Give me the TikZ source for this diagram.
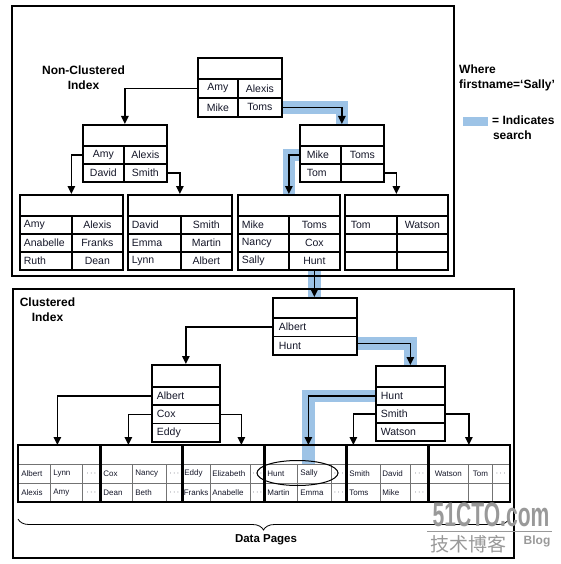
\documentclass[tikz,border=0pt]{standalone}
\usepackage{fontspec}
\setmainfont{Liberation Sans}
\newfontfamily\cjk{Noto Sans CJK SC}
\usetikzlibrary{arrows.meta,shapes.geometric,decorations.pathreplacing}
\pgfdeclarelayer{bg}
\pgfsetlayers{bg,main}
\definecolor{hl}{RGB}{157,195,230}
\definecolor{txt}{RGB}{20,22,40}
\newcommand\lft[3]{\makebox[#2][l]{\hspace{#1}#3}}
\tikzset{
  box/.style={draw, line width=1.7pt, inner sep=0pt, anchor=north west, text=txt,
    font=\fontsize{10.5}{12}\selectfont},
  hdr/.style={box},
  conn/.style={line width=1.4pt, -{Triangle[length=8pt,width=7.5pt]}},
  band/.style={line width=12.5pt, draw=hl, line join=miter},
  dc/.style={draw=black!55, line width=0.7pt, inner sep=0pt, anchor=north west, text=txt,
    font=\fontsize{8}{9}\selectfont},
  pg/.style={line width=1.8pt},
  sepline/.style={line width=3pt},
  frame/.style={line width=1.8pt},
  lbl/.style={font=\bfseries\fontsize{12}{15}\selectfont, inner sep=0pt},
  wm/.style={text=black!40, inner sep=0pt},
}
\begin{document}
\begin{tikzpicture}[x=1pt,y=-1pt]
\useasboundingbox (0,0) rectangle (561,564);
% frames
\draw[frame] (12,6) rectangle (454,276);
\draw[frame] (13,289) rectangle (514,558);

% labels
\node[lbl, align=center] (ncl) at (83.5,77.5) {Non-Clustered\\Index};
\node[lbl, align=left, anchor=west] (where) at (459,77.5) {Where\\firstname=‘Sally’};
\fill[hl] (463,117) rectangle (488,126);
\node[lbl, align=left, anchor=west] (legend) at (492,128) {= Indicates\\\hspace{0.8pt}search};
\node[lbl, align=center] (cl) at (47.5,310) {Clustered\\Index};

% ---- non-clustered root
\node[hdr, minimum width=84pt, minimum height=21pt] (Rh) at (197,57) {};
\node[box, minimum width=40pt, minimum height=19pt] (Ra) at (197,78) {Amy};
\node[box, minimum width=44pt, minimum height=19pt] (Rb) at (237,78) {Alexis};
\node[box, minimum width=40pt, minimum height=19pt] (Rc) at (197,97) {Mike};
\node[box, minimum width=44pt, minimum height=19pt] (Rd) at (237,97) {Toms};

% ---- level 2 left
\node[hdr, minimum width=84pt, minimum height=21pt] (Ah) at (82,124) {};
\node[box, minimum width=41pt, minimum height=18pt] (Aa) at (82,145) {Amy};
\node[box, minimum width=43pt, minimum height=18pt] (Ab) at (123,145) {Alexis};
\node[box, minimum width=41pt, minimum height=18pt] (Ac) at (82,163) {David};
\node[box, minimum width=43pt, minimum height=18pt] (Ad) at (123,163) {Smith};

% ---- level 2 right
\node[hdr, minimum width=84pt, minimum height=21pt] (Bh) at (299,124) {};
\node[box, minimum width=41pt, minimum height=18pt] (Ba) at (299,145) {\lft{7pt}{41pt}{Mike}};
\node[box, minimum width=43pt, minimum height=18pt] (Bb) at (340,145) {Toms};
\node[box, minimum width=41pt, minimum height=18pt] (Bc) at (299,163) {\lft{7pt}{41pt}{Tom}};
\node[box, minimum width=43pt, minimum height=18pt] (Bd) at (340,163) {};

% ---- leaves
% leaf 1
\node[hdr, minimum width=103pt, minimum height=21pt] (F1h) at (19,194) {};
\node[box, minimum width=52pt, minimum height=18pt] (F1a) at (19,215) {\lft{4pt}{52pt}{Amy}};
\node[box, minimum width=51pt, minimum height=18pt] (F1b) at (71,215) {Alexis};
\node[box, minimum width=52pt, minimum height=18pt] (F1c) at (19,233) {\lft{4pt}{52pt}{Anabelle}};
\node[box, minimum width=51pt, minimum height=18pt] (F1d) at (71,233) {Franks};
\node[box, minimum width=52pt, minimum height=18pt] (F1e) at (19,251) {\lft{4pt}{52pt}{Ruth}};
\node[box, minimum width=51pt, minimum height=18pt] (F1f) at (71,251) {Dean};
% leaf 2
\node[hdr, minimum width=104pt, minimum height=21pt] (F2h) at (127,194) {};
\node[box, minimum width=53pt, minimum height=18pt] (F2a) at (127,215) {\lft{4pt}{53pt}{David}};
\node[box, minimum width=51pt, minimum height=18pt] (F2b) at (180,215) {Smith};
\node[box, minimum width=53pt, minimum height=18pt] (F2c) at (127,233) {\lft{4pt}{53pt}{Emma}};
\node[box, minimum width=51pt, minimum height=18pt] (F2d) at (180,233) {Martin};
\node[box, minimum width=53pt, minimum height=18pt] (F2e) at (127,251) {\lft{4pt}{53pt}{Lynn}};
\node[box, minimum width=51pt, minimum height=18pt] (F2f) at (180,251) {Albert};
% leaf 3
\node[hdr, minimum width=102pt, minimum height=21pt] (F3h) at (237,194) {};
\node[box, minimum width=51pt, minimum height=18pt] (F3a) at (237,215) {\lft{4pt}{51pt}{Mike}};
\node[box, minimum width=51pt, minimum height=18pt] (F3b) at (288,215) {Toms};
\node[box, minimum width=51pt, minimum height=18pt] (F3c) at (237,233) {\lft{4pt}{51pt}{Nancy}};
\node[box, minimum width=51pt, minimum height=18pt] (F3d) at (288,233) {Cox};
\node[box, minimum width=51pt, minimum height=18pt] (F3e) at (237,251) {\lft{4pt}{51pt}{Sally}};
\node[box, minimum width=51pt, minimum height=18pt] (F3f) at (288,251) {Hunt};
% leaf 4
\node[hdr, minimum width=103pt, minimum height=21pt] (F4h) at (344,194) {};
\node[box, minimum width=52pt, minimum height=18pt] (F4a) at (344,215) {\lft{6pt}{52pt}{Tom}};
\node[box, minimum width=51pt, minimum height=18pt] (F4b) at (396,215) {Watson};
\node[box, minimum width=52pt, minimum height=18pt] (F4c) at (344,233) {};
\node[box, minimum width=51pt, minimum height=18pt] (F4d) at (396,233) {};
\node[box, minimum width=52pt, minimum height=18pt] (F4e) at (344,251) {};
\node[box, minimum width=51pt, minimum height=18pt] (F4f) at (396,251) {};

% ---- clustered root
\node[hdr, minimum width=84pt, minimum height=20pt] (Ch) at (272,297) {};
\node[box, minimum width=84pt, minimum height=18.5pt] (C1) at (272,317) {\lft{6pt}{84pt}{Albert}};
\node[box, minimum width=84pt, minimum height=18.5pt] (C2) at (272,335.5) {\lft{6pt}{84pt}{Hunt}};
% clustered mid left
\node[hdr, minimum width=68pt, minimum height=22pt] (Lh) at (151,364) {};
\node[box, minimum width=68pt, minimum height=18.3pt] (L1) at (151,386) {\lft{5pt}{68pt}{Albert}};
\node[box, minimum width=68pt, minimum height=18.3pt] (L2) at (151,404.3) {\lft{5pt}{68pt}{Cox}};
\node[box, minimum width=68pt, minimum height=18.4pt] (L3) at (151,422.6) {\lft{5pt}{68pt}{Eddy}};
% clustered mid right
\node[hdr, minimum width=69pt, minimum height=21pt] (Mh) at (375,365) {};
\node[box, minimum width=69pt, minimum height=18pt] (M1) at (375,386) {\lft{5pt}{69pt}{Hunt}};
\node[box, minimum width=69pt, minimum height=18pt] (M2) at (375,404) {\lft{5pt}{69pt}{Smith}};
\node[box, minimum width=69pt, minimum height=18pt] (M3) at (375,422) {\lft{5pt}{69pt}{Watson}};

% ---- data pages
% P1
\node[dc, minimum width=82pt, minimum height=19pt] (P1h) at (18,445) {};
\node[dc, minimum width=32pt, minimum height=19pt] (P1a) at (18,464) {\lft{3pt}{32pt}{Albert}};
\node[dc, minimum width=32pt, minimum height=19pt] (P1b) at (50,464) {\lft{3pt}{32pt}{Lynn}};
\node[dc, minimum width=18pt, minimum height=19pt] (P1c) at (82,464) {$\cdots$};
\node[dc, minimum width=32pt, minimum height=18pt] (P1d) at (18,483) {\lft{3pt}{32pt}{Alexis}};
\node[dc, minimum width=32pt, minimum height=18pt] (P1e) at (50,483) {\lft{3pt}{32pt}{Amy}};
\node[dc, minimum width=18pt, minimum height=18pt] (P1f) at (82,483) {$\cdots$};
% P2
\node[dc, minimum width=82pt, minimum height=19pt] (P2h) at (100,445) {};
\node[dc, minimum width=32pt, minimum height=19pt] (P2a) at (100,464) {\lft{3pt}{32pt}{Cox}};
\node[dc, minimum width=34pt, minimum height=19pt] (P2b) at (132,464) {\lft{3pt}{34pt}{Nancy}};
\node[dc, minimum width=16pt, minimum height=19pt] (P2c) at (166,464) {$\cdots$};
\node[dc, minimum width=32pt, minimum height=18pt] (P2d) at (100,483) {\lft{3pt}{32pt}{Dean}};
\node[dc, minimum width=34pt, minimum height=18pt] (P2e) at (132,483) {\lft{3pt}{34pt}{Beth}};
\node[dc, minimum width=16pt, minimum height=18pt] (P2f) at (166,483) {$\cdots$};
% P3
\node[dc, minimum width=82pt, minimum height=19pt] (P3h) at (182,445) {};
\node[dc, minimum width=28pt, minimum height=19pt] (P3a) at (182,464) {\lft{2pt}{28pt}{Eddy}};
\node[dc, minimum width=40pt, minimum height=19pt] (P3b) at (210,464) {\lft{2pt}{40pt}{Elizabeth}};
\node[dc, minimum width=14pt, minimum height=19pt] (P3c) at (250,464) {$\cdots$};
\node[dc, minimum width=28pt, minimum height=18pt] (P3d) at (182,483) {\lft{1.5pt}{28pt}{Franks}};
\node[dc, minimum width=40pt, minimum height=18pt] (P3e) at (210,483) {\lft{2pt}{40pt}{Anabelle}};
\node[dc, minimum width=14pt, minimum height=18pt] (P3f) at (250,483) {$\cdots$};
% P4
\node[dc, minimum width=82pt, minimum height=19pt] (P4h) at (264,445) {};
\node[dc, minimum width=33pt, minimum height=19pt] (P4a) at (264,464) {\lft{3pt}{33pt}{Hunt}};
\node[dc, minimum width=34pt, minimum height=19pt] (P4b) at (297,464) {\lft{3pt}{34pt}{Sally}};
\node[dc, minimum width=15pt, minimum height=19pt] (P4c) at (331,464) {$\cdots$};
\node[dc, minimum width=33pt, minimum height=18pt] (P4d) at (264,483) {\lft{3pt}{33pt}{Martin}};
\node[dc, minimum width=34pt, minimum height=18pt] (P4e) at (297,483) {\lft{3pt}{34pt}{Emma}};
\node[dc, minimum width=15pt, minimum height=18pt] (P4f) at (331,483) {$\cdots$};
% P5
\node[dc, minimum width=82pt, minimum height=19pt] (P5h) at (346,445) {};
\node[dc, minimum width=34pt, minimum height=19pt] (P5a) at (346,464) {\lft{3pt}{34pt}{Smith}};
\node[dc, minimum width=30pt, minimum height=19pt] (P5b) at (380,464) {\lft{2pt}{30pt}{David}};
\node[dc, minimum width=18pt, minimum height=19pt] (P5c) at (410,464) {$\cdots$};
\node[dc, minimum width=34pt, minimum height=18pt] (P5d) at (346,483) {\lft{3pt}{34pt}{Toms}};
\node[dc, minimum width=30pt, minimum height=18pt] (P5e) at (380,483) {\lft{2pt}{30pt}{Mike}};
\node[dc, minimum width=18pt, minimum height=18pt] (P5f) at (410,483) {$\cdots$};
% P6
\node[dc, minimum width=81pt, minimum height=19pt] (P6h) at (428,445) {};
\node[dc, minimum width=40pt, minimum height=19pt] (P6a) at (428,464) {Watson};
\node[dc, minimum width=24pt, minimum height=19pt] (P6b) at (468,464) {Tom};
\node[dc, minimum width=17pt, minimum height=19pt] (P6c) at (492,464) {$\cdots$};
\node[dc, minimum width=40pt, minimum height=18pt] (P6d) at (428,483) {};
\node[dc, minimum width=24pt, minimum height=18pt] (P6e) at (468,483) {};
\node[dc, minimum width=17pt, minimum height=18pt] (P6f) at (492,483) {};

% page outlines and separators
\draw[pg] (P1h.north west) rectangle (P6f.south east);
\draw[sepline] (P2h.north west) -- (P2d.south west);
\draw[sepline] (P3h.north west) -- (P3d.south west);
\draw[sepline] (P4h.north west) -- (P4d.south west);
\draw[sepline] (P5h.north west) -- (P5d.south west);
\draw[sepline] (P6h.north west) -- (P6d.south west);

% circle round Hunt / Sally
\node[ellipse, draw, line width=1pt, minimum width=81pt, minimum height=25pt, inner sep=0pt] (ring) at (297.5,473) {};

% ---- highlighted search path
\begin{pgfonlayer}{bg}
\draw[band] (Rd.east) -| (Bh.north);
\draw[band] (Ba.west) -| (F3h.north);
\draw[band] (F3f.south) -- (F3f.south |- Ch.north);
\draw[band] ([yshift=2pt]C2.east) -| (Mh.north);
\draw[band] (M1.west) -| ([xshift=3pt]P4h.south);
\end{pgfonlayer}

% ---- connectors
\draw[conn] (Ra.west) -| (Ah.north);
\draw[conn] (Rd.east) -| (Bh.north);
\draw[conn] (Aa.west) -| (F1h.north);
\draw[conn] (Ad.east) -| (F2h.north);
\draw[conn] (Ba.west) -| (F3h.north);
\draw[conn] (Bd.east) -| (F4h.north);
\draw[conn] (F3f.south) -- (F3f.south |- Ch.north);
\draw[conn] (C1.west) -| (Lh.north);
\draw[conn] ([yshift=2pt]C2.east) -| (Mh.north);
\draw[conn] (L1.west) -| ([xshift=-2pt]P1h.north);
\draw[conn] (L2.west) -| ([xshift=-13pt]P2h.north);
\draw[conn] (L2.east) -| ([xshift=18pt]P3h.north);
\draw[conn] (M1.west) -| ([xshift=3pt]P4h.north);
\draw[conn] (M2.west) -| ([xshift=-34pt]P5h.north);
\draw[conn] (M2.east) -| (P6h.north);

% ---- brace and caption
\coordinate (brL) at (18,519);
\coordinate (brR) at (509,519);
\draw[line width=0.8pt, decorate, decoration={brace, mirror, amplitude=11pt}] (brL) -- (brR);
\node[font=\bfseries\fontsize{11.5}{13}\selectfont, inner sep=0pt] (dp) at (266,540) {Data Pages};

% ---- watermark
\node[wm, font=\bfseries\fontsize{34}{34}\selectfont] (wm1) at (491,515) {\scalebox{0.62}[1]{51CTO.com}};
\draw[black!40, line width=1.5pt] (427,531.5) -- (552,531.5);
\node[wm, font=\cjk\fontsize{19}{19}\selectfont] (wm2) at (468,544) {技术博客};
\node[wm, font=\bfseries\fontsize{12}{12}\selectfont] (wm3) at (537,541) {Blog};
\end{tikzpicture}
\end{document}
